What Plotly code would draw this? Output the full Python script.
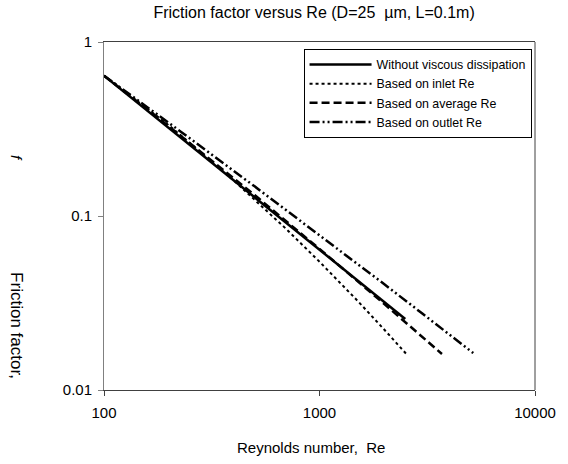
import plotly.graph_objects as go

# ---- data ----
re_without = [100, 200, 500, 1000, 2000, 2500]
f_without = [0.64, 0.32, 0.128, 0.064, 0.032, 0.0256]

re_inlet = [100, 200, 400, 700, 1000, 1500, 2000, 2530]
f_inlet = [0.64, 0.332, 0.160, 0.0843, 0.0546, 0.0326, 0.0222, 0.0161]

re_average = [100, 200, 500, 1000, 2000, 3000, 3700]
f_average = [0.64, 0.328, 0.132, 0.0647, 0.0312, 0.0202, 0.0161]

re_outlet = [100, 200, 500, 1000, 2000, 3000, 4000, 5170]
f_outlet = [0.64, 0.343, 0.148, 0.0778, 0.0405, 0.0275, 0.0209, 0.0163]

names = ["Without viscous dissipation", "Based on inlet Re",
         "Based on average Re", "Based on outlet Re"]

x_ticks = [100, 1000, 10000]
x_ticktext = ["100", "1000", "10000"]
y_ticks = [0.01, 0.1, 1]
y_ticktext = ["0.01", "0.1", "1"]

FONT = "Liberation Sans, Arial, sans-serif"

fig = go.Figure()
series = [
    (re_without, f_without, "solid", 2.5),
    (re_inlet, f_inlet, "dot", 2),
    (re_average, f_average, "8px,4px", 2.5),
    (re_outlet, f_outlet, "10px,3px,2px,3px,2px,3px", 2.5),
]
for (xs, ys, dash, w), nm in zip(series, names):
    fig.add_trace(go.Scatter(x=xs, y=ys, mode="lines", name=nm,
                             line=dict(color="black", width=w, dash=dash)))

fig.update_layout(
    width=568, height=464,
    margin=dict(l=104, r=24, t=42, b=74),
    paper_bgcolor="white", plot_bgcolor="white",
    font=dict(family=FONT, size=15, color="black"),
    showlegend=True,
    legend=dict(x=0.463, y=0.98, xanchor="left", yanchor="top",
                bordercolor="black", borderwidth=1, bgcolor="white",
                font=dict(family=FONT, size=12.4), tracegroupgap=0,
                itemwidth=62),
    title=dict(text="Friction factor versus Re (D=25  \u00b5m, L=0.1m)",
               x=0.553, xref="container", xanchor="center",
               y=0.974, yref="container", yanchor="middle",
               font=dict(family=FONT, size=16)),
)
fig.update_xaxes(type="log", range=[2, 4], tickvals=x_ticks, ticktext=x_ticktext,
                 ticks="outside", ticklen=5, tickcolor="#404040",
                 ticklabelstandoff=4,
                 showline=True, linecolor="#404040", linewidth=1, mirror=True,
                 showgrid=False, zeroline=False)
fig.update_yaxes(type="log", range=[-2, 0], tickvals=y_ticks, ticktext=y_ticktext,
                 ticks="outside", ticklen=5, tickcolor="#808080",
                 ticklabelstandoff=3,
                 showline=True, linecolor="#808080", linewidth=1, mirror=False,
                 showgrid=False, zeroline=False)
fig.add_shape(type="line", xref="paper", yref="paper", x0=1, x1=1, y0=0, y1=1,
              line=dict(color="#404040", width=1))

fig.add_annotation(text="Reynolds number,  Re", xref="paper", yref="paper",
                   x=0.48, y=-0.164, xanchor="center", yanchor="middle",
                   showarrow=False, font=dict(family=FONT, size=15))
fig.add_annotation(text="Friction factor,", xref="paper", yref="paper",
                   x=-0.2045, y=0.184, xanchor="center", yanchor="middle",
                   textangle=90, showarrow=False, font=dict(family=FONT, size=17))
fig.add_annotation(text="<i>f</i>", xref="paper", yref="paper",
                   x=-0.2045, y=0.667, xanchor="center", yanchor="middle",
                   textangle=90, showarrow=False, font=dict(family=FONT, size=15))

fig.write_html("out.html",
               config={"displayModeBar": False},
               post_script="document.body.style.margin='0px';"
                           "document.body.style.padding='0px';")
